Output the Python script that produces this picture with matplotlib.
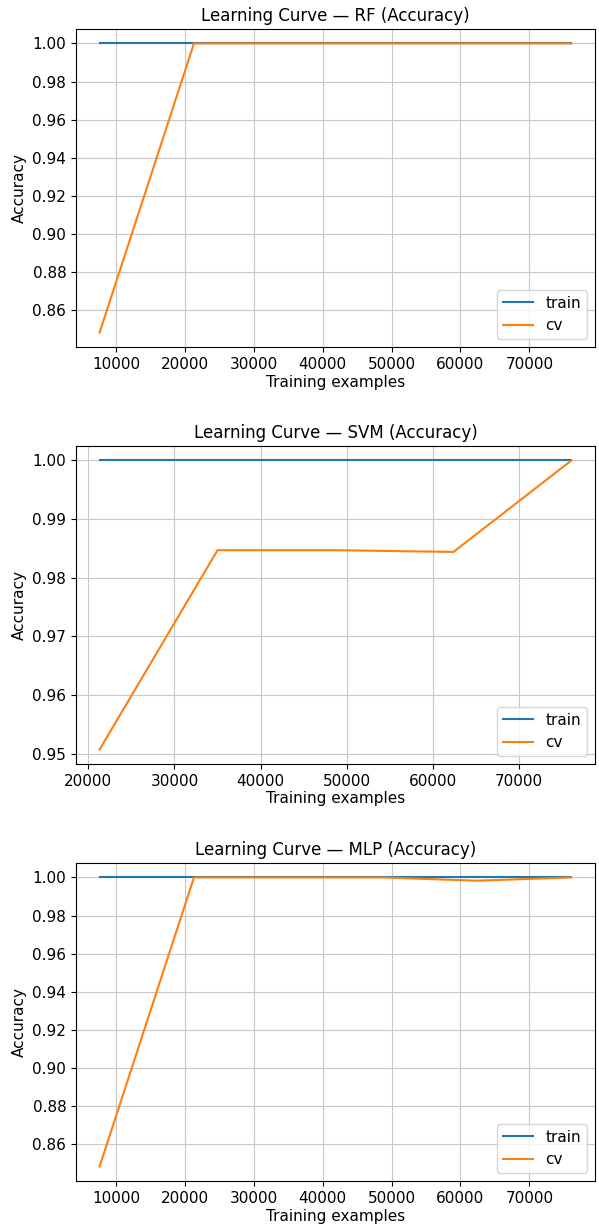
import matplotlib
matplotlib.use("Agg")
import matplotlib.pyplot as plt

# training set sizes used by learning_curve
sizes = [7610, 21308, 35006, 48704, 62402, 76100]
sizes_svm = [21308, 35006, 48704, 62402, 76100]

# mean scores
rf_train = [1.0, 1.0, 1.0, 1.0, 1.0, 1.0]
rf_cv = [0.8483, 1.0, 1.0, 1.0, 1.0, 1.0]

svm_train = [1.0, 1.0, 1.0, 1.0, 1.0]
svm_cv = [0.9507, 0.9847, 0.9847, 0.9844, 1.0]

mlp_train = [1.0, 1.0, 1.0, 1.0, 1.0, 1.0]
mlp_cv = [0.8483, 1.0, 1.0, 1.0, 0.9983, 1.0]

panels = [
    ("RF", sizes, rf_train, rf_cv),
    ("SVM", sizes_svm, svm_train, svm_cv),
    ("MLP", sizes, mlp_train, mlp_cv),
]

fig = plt.figure(figsize=(5.99, 12.27), dpi=100)
W, H = 599, 1227
# axes boxes in pixels: left, top, right, bottom
boxes = [(76, 29, 595, 347), (76, 446, 595, 764), (76, 863, 595, 1181)]

for (name, x, tr, cv), (l, t, r, b) in zip(panels, boxes):
    ax = fig.add_axes([l / W, 1 - b / H, (r - l) / W, (b - t) / H])
    ax.plot(x, tr, label="train")
    ax.plot(x, cv, label="cv")
    ax.set_title(f"Learning Curve — {name} (Accuracy)", fontsize=12)
    ax.set_xlabel("Training examples", fontsize=11, labelpad=2)
    ax.set_ylabel("Accuracy", fontsize=11)
    ax.tick_params(labelsize=11)
    ax.grid(True, color="#c8c8c8")
    ax.legend(loc="lower right", fontsize=11)

fig.savefig("out.png", dpi=100)
